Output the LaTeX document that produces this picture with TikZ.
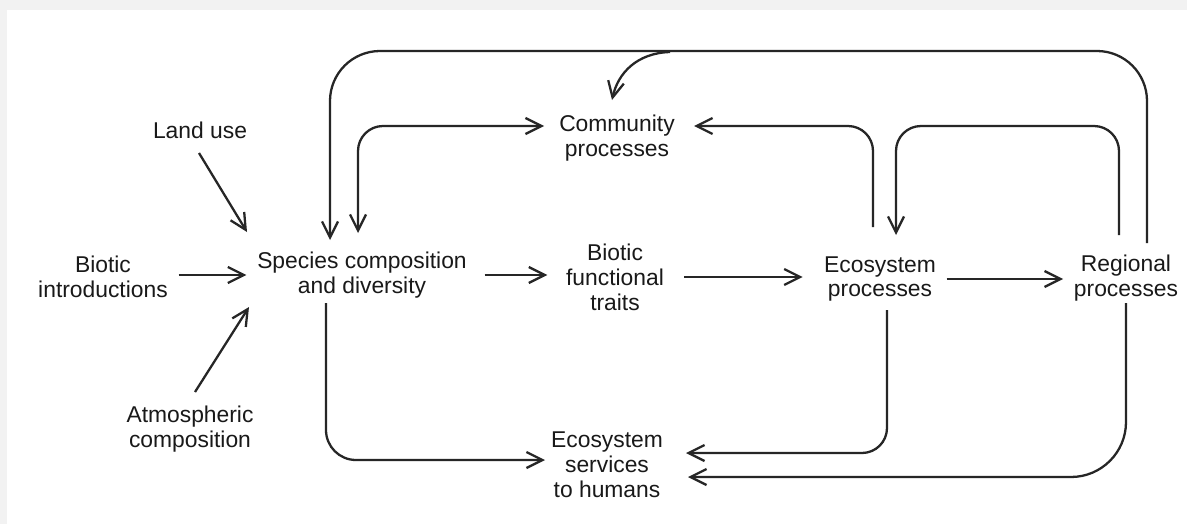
\documentclass[tikz,border=0pt]{standalone}
\usepackage{fontspec}
\setmainfont{Liberation Sans}
\usetikzlibrary{arrows.meta}

\begin{document}
\begin{tikzpicture}[x=0.02cm, y=-0.02cm, >={Straight Barb[length=3.2mm,width=3.2mm]}]
        \fill[black!5] (0,0) rectangle (1187,524);
        \fill[white] (7,10) rectangle (1187,524);
        \useasboundingbox (0,0) rectangle (1187,524);
        \begin{scope}[every node/.style={align=center, inner sep=6pt, text=black!90, font=\fontsize{13}{14.2}\selectfont}]
                \node (LU) at (200,130) {Land use};
                \node (BI) at (103,277) {Biotic\\introductions};
                \node (SC) at (362,275) {Species composition\\and diversity};
                \node (AC) at (190,429) {Atmospheric\\composition};
                \node (CP) at (617,138) {Community\\processes};
                \node (BF) at (615,277) {Biotic\\functional\\traits};
                \node (EP) at (880,279) {Ecosystem\\processes};
                \node (RP) at (1126,278) {Regional\\processes};
                \node (ES) at (607,465) {Ecosystem\\services\\to humans};
        \end{scope}
        \begin{scope}[every path/.style={draw=black!85, line width=1.3pt, ->}]
                \draw ([shift={(-1,23)}]LU.center) -- ([shift={(-115,-43)}]SC.center);
                \draw ([shift={(5,-37)}]AC.center) -- ([shift={(-113,32)}]SC.center);
                \draw (BI.east |- SC.east) -- (SC.west);
                \draw ([xshift=4pt]SC.east) -- ([xshift=-4.5pt]BF.west |- SC.east);
                \draw ([xshift=5.5pt]BF.east) -- ([xshift=-6pt]EP.west |- BF.east);
                \draw (EP.east) -- (RP.west |- EP.east);
                \draw[rounded corners=1cm] ([shift={(21,-35)}]RP.center) |- ([shift={(-32,-224)}]SC.center) -- ([shift={(-32,-35)}]SC.center);
                \draw ([shift={(53,-86)}]CP.center) .. controls ([shift={(20,-85)}]CP.center) and ([shift={(1,-65)}]CP.center) .. ([shift={(-5,-38)}]CP.center);
                \draw[<->, rounded corners=0.5cm] ([shift={(-73,-12)}]CP.center) -| ([shift={(-4,-42)}]SC.center);
                \draw[rounded corners=0.5cm] ([shift={(-7,-52)}]EP.center) |- ([shift={(77,-12)}]CP.center);
                \draw[rounded corners=0.5cm] ([shift={(-7,-43)}]RP.center) |- ([shift={(16,-153)}]EP.center) -- ([shift={(16,-44)}]EP.center);
                \draw[rounded corners=0.6cm] ([shift={(-36,28)}]SC.center) |- ([shift={(-62,-5)}]ES.center);
                \draw[rounded corners=0.5cm] ([shift={(7,31)}]EP.center) |- ([shift={(79,-12)}]ES.center);
                \draw[rounded corners=1.1cm] ([shift={(0,25)}]RP.center) |- ([shift={(81,12)}]ES.center);
        \end{scope}
\end{tikzpicture}
\end{document}
